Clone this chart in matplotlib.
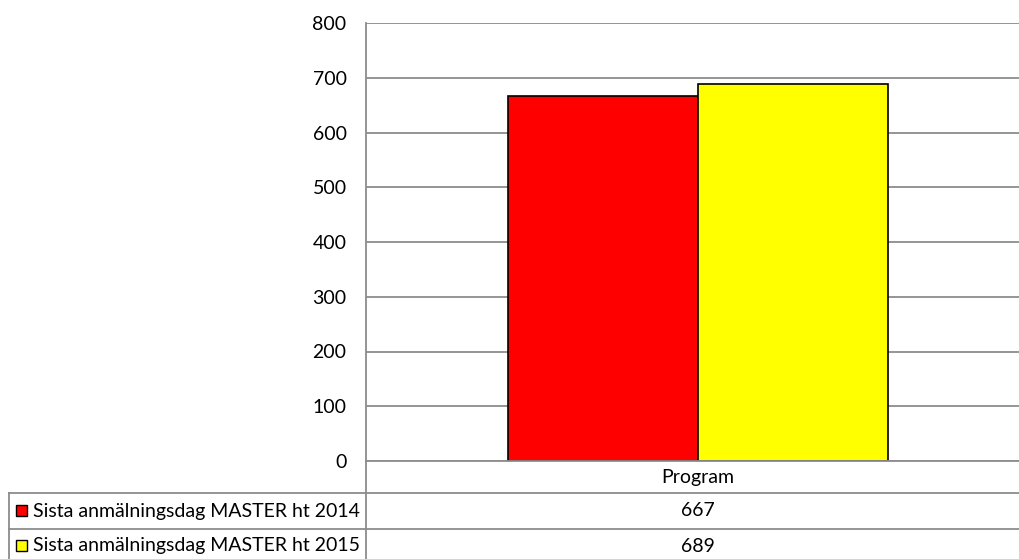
import matplotlib.pyplot as plt
from matplotlib.lines import Line2D
from matplotlib.patches import Rectangle

# data
category = "Program"
series_names = ["Sista anmälningsdag MASTER ht 2014", "Sista anmälningsdag MASTER ht 2015"]
values = [667, 689]
colors = ["#FF0000", "#FFFF00"]
yticks = [0, 100, 200, 300, 400, 500, 600, 700, 800]

W, H = 1019, 559
plt.rcParams['font.family'] = ['Lato', 'DejaVu Sans']
fs = 14
fig = plt.figure(figsize=(W / 100, H / 100), dpi=100)

# plot area in pixels
left, right, top, bottom = 366, 1019, 23, 461
ax = fig.add_axes([left / W, 1 - bottom / H, (right - left) / W, (bottom - top) / H])

# category centre sits at x=698 px; plot area continues past the figure edge
px_per_unit = 330.0
ax.set_xlim(-(698 - left) / px_per_unit, (right - 698) / px_per_unit)
bar_w = 190 / px_per_unit
ax.bar([-bar_w / 2, bar_w / 2], values, width=bar_w, color=colors,
       edgecolor="black", linewidth=1.2, zorder=3)

ax.set_ylim(0, 800)
ax.set_yticks(yticks)
ax.set_yticklabels([str(t) for t in yticks], fontsize=fs)
ax.tick_params(axis='y', length=0, pad=14)
ax.set_xticks([])
ax.grid(axis='y', color="#8c8c8c", linewidth=1.3, zorder=0)
for s in ["top", "right", "bottom"]:
    ax.spines[s].set_visible(False)
ax.spines["left"].set_color("#8c8c8c")
ax.spines["left"].set_linewidth(1.3)


def fx(x):
    return x / W


def fy(y):
    return 1 - y / H


line_kw = dict(color="#8c8c8c", linewidth=1.3, transform=fig.transFigure)
# x axis line and table lines
fig.add_artist(Line2D([fx(left), 1], [fy(bottom), fy(bottom)], **line_kw))
fig.add_artist(Line2D([fx(9), 1], [fy(493), fy(493)], **line_kw))
fig.add_artist(Line2D([fx(9), 1], [fy(529), fy(529)], **line_kw))
fig.add_artist(Line2D([fx(9), fx(9)], [fy(493), 0], **line_kw))
fig.add_artist(Line2D([fx(left), fx(left)], [fy(bottom), 0], **line_kw))

fig.text(fx(698), fy(478), category, ha="center", va="center", fontsize=fs)
row_y = [511, 546]
for name, val, col, y in zip(series_names, values, colors, row_y):
    fig.add_artist(Rectangle((fx(16), fy(y + 5)), 11 / W, 11 / H, facecolor=col,
                             edgecolor="black", linewidth=1, transform=fig.transFigure))
    fig.text(fx(33), fy(y), name, ha="left", va="center", fontsize=fs)
    fig.text(fx(698), fy(y), str(val), ha="center", va="center", fontsize=fs)

fig.savefig("out.png", dpi=100)
